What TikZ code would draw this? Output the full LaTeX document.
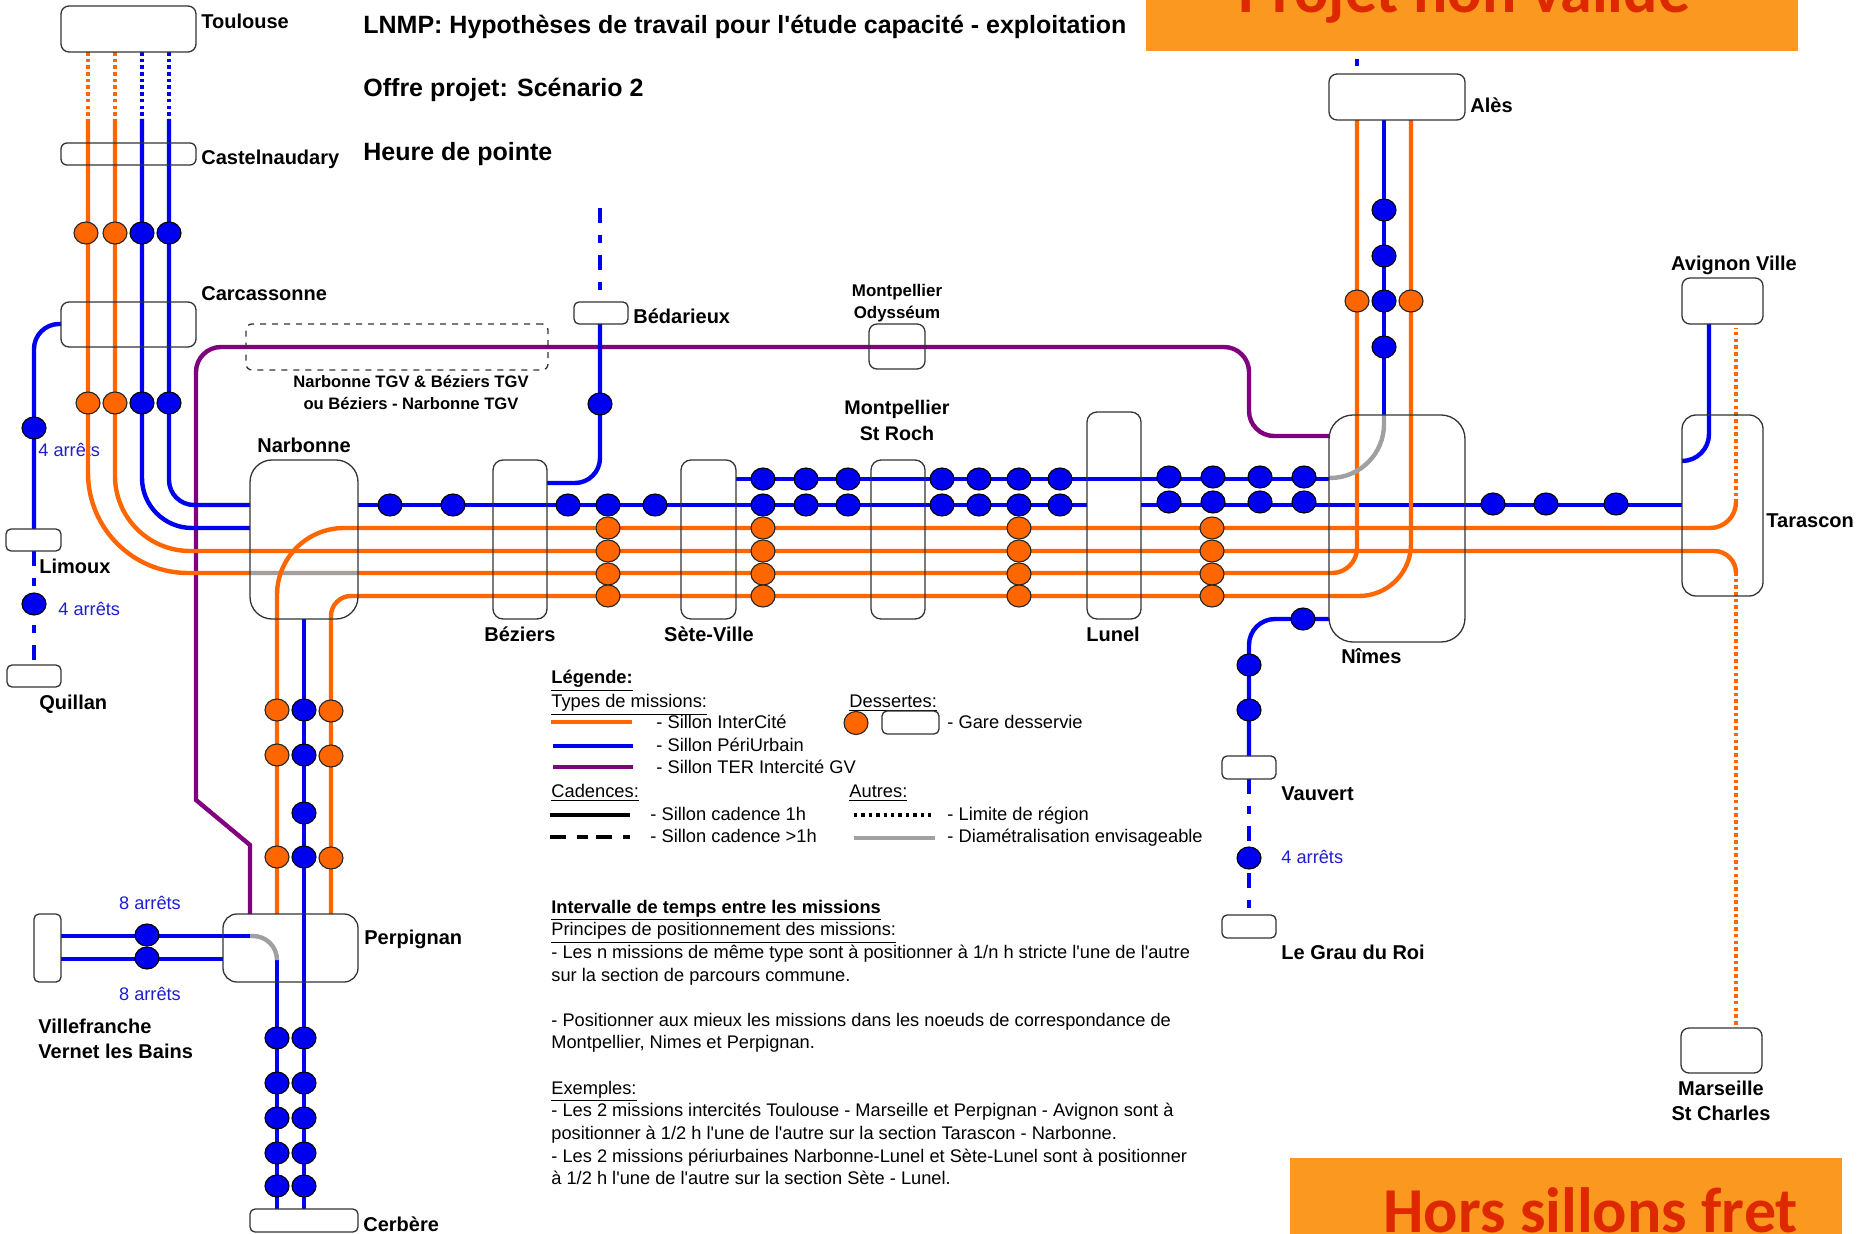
\documentclass[tikz,border=0pt]{standalone}
\usepackage{fontspec}
\newfontfamily\lib{Liberation Sans}
\newfontfamily\carl{Carlito}
\usetikzlibrary{shapes.geometric}
\definecolor{cor}{HTML}{FF6600}
\definecolor{cbl}{HTML}{0000F0}
\definecolor{cpu}{HTML}{800080}
\definecolor{cgr}{HTML}{A0A0A0}
\definecolor{ctx}{HTML}{1F1FD0}
\definecolor{cban}{HTML}{FB981F}
\definecolor{cred}{HTML}{DE2800}
\tikzset{
  gare/.style={draw=black!80,line width=.65pt,rectangle,inner sep=0pt,outer sep=0pt},
  stopb/.style={draw=black,fill=cbl,line width=.55pt,ellipse,inner sep=0pt,minimum width=12pt,minimum height=11pt},
  stopo/.style={draw=black!85,fill=cor,line width=.55pt,ellipse,inner sep=0pt,minimum width=12pt,minimum height=11pt},
  lor/.style={draw=cor,line width=2.2pt},
  lbl/.style={draw=cbl,line width=2.2pt},
  lpu/.style={draw=cpu,line width=2.2pt},
  lgr/.style={draw=cgr,line width=2.2pt},
  dotted line/.style={dash pattern=on 1.8pt off 1.55pt},
  mixed line/.style={dash pattern=on 7.5pt off 6pt on 4pt off 6pt},
  lab/.style={inner sep=0pt,anchor=west,text height=7.6pt,text depth=.4pt,font=\lib\bfseries\fontsize{10}{12}\selectfont},
  labc/.style={inner sep=0pt,align=center,font=\lib\bfseries\fontsize{10}{12.6}\selectfont},
  title/.style={inner sep=0pt,anchor=west,text height=9.9pt,text depth=.5pt,font=\lib\bfseries\fontsize{12.5}{15}\selectfont},
  stoptxt/.style={inner sep=0pt,text=ctx,text height=6.4pt,text depth=1pt,font=\lib\fontsize{9.1}{11}\selectfont},
  leg/.style={inner sep=0pt,anchor=west,text height=6.6pt,text depth=1pt,font=\lib\fontsize{9.15}{11}\selectfont},
  banner/.style={fill=cban,draw=none},
  bantxt/.style={inner sep=0pt,anchor=base west,text=cred,font=\carl\bfseries\fontsize{32}{36}\selectfont},
}
\newcommand{\gareN}[6]{\node[gare,rounded corners=#6,minimum width={(#4-#2)*.5pt},minimum height={(#5-#3)*.5pt}] (#1) at ({(#2+#4)/2},{(#3+#5)/2}) {};}
\begin{document}
\begin{tikzpicture}[x=.5pt,y=-.5pt]
\useasboundingbox (0,0) rectangle (1861,1234);
\fill[white] (0,0) rectangle (1861,1234);
% banners
\path[banner] (1146,0) rectangle (1798,51);
\path[banner] (1290,1158) rectangle (1842,1234);
\node[bantxt] (banA) at (1238,13) {Projet non valide};
\node[bantxt] (banB) at (1383,1232) {Hors sillons fret};
% labels lying under the lines
\node[stoptxt,anchor=west] (ar1) at (38,451) {4 arrêts};
% purple
\draw[lpu] (250,914)--(250,845)--(196,800)--(196,500);
\draw[lpu,rounded corners=12.5pt] (196,500)--(196,347)--(1249,347)--(1249,436)--(1329,436);
% blue
\draw[lbl,dotted line] (142,52)--(142,119);
\draw[lbl,dotted line] (169,52)--(169,119);
\draw[lbl,rounded corners=12.5pt] (169,119)--(169,505)--(250,505);
\draw[lbl,rounded corners=25pt] (142,119)--(142,528)--(250,528);
\draw[lbl] (358,505)--(1087,505);
\draw[lbl] (736,479)--(1329,479);
\draw[lbl] (1141,505)--(1682,505);
\draw[lbl,rounded corners=12.5pt] (61,324)--(34,324)--(34,529);
\draw[lbl,mixed line] (34,551)--(34,665);
\draw[lbl,mixed line] (600,208)--(600,291);
\draw[lbl,rounded corners=12.5pt] (600,324)--(600,483)--(547,483);
\draw[lbl] (304,619)--(304,1209);
\draw[lbl] (277,959)--(277,1209);
\draw[lbl] (61,936)--(250,936);
\draw[lbl] (61,959)--(223,959);
\draw[lbl] (1384,120)--(1384,415);
\draw[lbl] (1357,59)--(1357,66);
\draw[lbl,rounded corners=13pt] (1329,619)--(1249,619)--(1249,756);
\draw[lbl,mixed line] (1249,779)--(1249,915);
\draw[lbl,rounded corners=13.5pt] (1709,324)--(1709,461)--(1682,461);
% orange
\draw[lor,dotted line] (88,52)--(88,119);
\draw[lor,dotted line] (115,52)--(115,119);
\draw[lor,rounded corners=50pt] (88,119)--(88,573)--(600,573);
\draw[lgr] (250,573)--(358,573);
\draw[lor,rounded corners=12.5pt] (600,573)--(1357,573)--(1357,120);
\draw[lor,rounded corners=37.5pt] (115,119)--(115,551)--(900,551);
\draw[lor,rounded corners=11pt] (900,551)--(1736,551)--(1736,572);
\draw[lor,dotted line] (1736,572)--(1736,1027);
\draw[lor,rounded corners=33.5pt] (277,914)--(277,528)--(900,528);
\draw[lor,rounded corners=13pt] (900,528)--(1736,528)--(1736,503);
\draw[lor,dotted line] (1736,503)--(1736,328);
\draw[lor,rounded corners=10pt] (331,914)--(331,596)--(800,596);
\draw[lor,rounded corners=26pt] (800,596)--(1411,596)--(1411,120);
% grey
\draw[lgr,rounded corners=27pt] (1384,415)--(1384,478)--(1329,478);
\draw[lgr,rounded corners=12pt] (250,936)--(277,936)--(277,959);
% stations
\gareN{tou}{61}{6}{196}{52}{4pt}
\gareN{cas}{61}{143}{196}{165}{3pt}
\gareN{car}{61}{302}{196}{347}{4pt}
\gareN{lim}{6}{529}{61}{551}{2.5pt}
\gareN{qui}{7}{665}{61}{687}{2.5pt}
\gareN{nar}{250}{460}{358}{619}{11pt}
\gareN{bed}{574}{302}{628}{324}{2.5pt}
\gareN{bez}{493}{460}{547}{619}{5pt}
\gareN{set}{681}{460}{736}{619}{5pt}
\gareN{mon}{871}{460}{925}{619}{5pt}
\gareN{ody}{869}{324}{925}{369}{4pt}
\gareN{lun}{1087}{412}{1141}{619}{5pt}
\gareN{nim}{1329}{415}{1465}{642}{12pt}
\gareN{ale}{1329}{74}{1465}{120}{4pt}
\gareN{avi}{1682}{278}{1763}{324}{4pt}
\gareN{tar}{1682}{415}{1763}{596}{7pt}
\gareN{mar}{1681}{1028}{1762}{1073}{4pt}
\gareN{vau}{1222}{756}{1276}{779}{2.5pt}
\gareN{gra}{1222}{915}{1276}{938}{2.5pt}
\gareN{per}{223}{914}{358}{982}{7pt}
\gareN{vil}{34}{914}{61}{982}{2.5pt}
\gareN{cer}{250}{1209}{358}{1232}{2.5pt}
\node[gare,dashed,rounded corners=3pt,minimum width=151pt,minimum height=23pt] (tgv) at (397,347) {};
% stops
\foreach \x/\y [count=\i] in {142/233,169/233,142/403,169/403,34/428,34/604,600/404,390/505,453/505,568/505,608/505,655/505,
  763/479,806/479,848/479,942/479,979/479,1019/479,1060/479,
  763/505,806/505,848/505,942/505,979/505,1019/505,1060/505,
  1169/477,1213/477,1260/477,1304/477,1169/502,1213/502,1260/502,1304/502,
  1384/210,1384/256,1384/301,1384/347,1493/504,1546/504,1616/504,
  1303/619,1249/665,1249/710,1249/858,
  304/710,304/755,304/813,304/857,
  277/1038,277/1083,277/1118,277/1153,277/1186,
  304/1038,304/1083,304/1118,304/1153,304/1186,147/935,147/958}
  \node[stopb] (b\i) at (\x,\y) {};
\foreach \x/\y [count=\i] in {86/233,115/233,88/403,115/403,
  608/528,608/551,608/574,608/596,763/528,763/551,763/574,763/596,
  1019/528,1019/551,1019/574,1019/596,1212/528,1212/551,1212/574,1212/596,
  1357/301,1411/301,277/710,277/755,277/857,331/711,331/756,331/858}
  \node[stopo] (o\i) at (\x,\y) {};
% titles
\node[title] (t1) at (363,24) {LNMP: Hypothèses de travail pour l'étude capacité - exploitation};
\node[title] (t2) at (363,87) {Offre projet: Scénario 2};
\node[title] (t3) at (363,151) {Heure de pointe};
% station labels
\node[lab] (lTou) at (201,21) {Toulouse};
\node[lab] (lCas) at (201,157) {Castelnaudary};
\node[lab] (lCar) at (201,293) {Carcassonne};
\node[lab] (lLim) at (39,566) {Limoux};
\node[lab] (lQui) at (39,702) {Quillan};
\node[lab] (lBed) at (633,316) {Bédarieux};
\node[labc] (lNar) at (304,445) {Narbonne};
\node[labc,font=\lib\bfseries\fontsize{8.3}{11}\selectfont] (lTgv) at (411,392) {Narbonne TGV \& Béziers TGV\\ou Béziers - Narbonne TGV};
\node[labc,font=\lib\bfseries\fontsize{8.45}{11}\selectfont] (lOdy) at (897,303) {Montpellier\\Odysséum};
\node[labc,font=\lib\bfseries\fontsize{9.85}{13}\selectfont] (lMon) at (897,420) {Montpellier\\St Roch};
\node[labc] (lBez) at (520,634) {Béziers};
\node[labc] (lSet) at (709,634) {Sète-Ville};
\node[labc] (lLun) at (1113,634) {Lunel};
\node[lab] (lNim) at (1341,656) {Nîmes};
\node[lab] (lAle) at (1470,105) {Alès};
\node[labc] (lAvi) at (1734,265) {Avignon Ville};
\node[lab] (lTar) at (1766,520) {Tarascon};
\node[labc] (lMar) at (1721,1101) {Marseille\\St Charles};
\node[lab] (lVau) at (1281,793) {Vauvert};
\node[lab] (lGra) at (1281,952) {Le Grau du Roi};
\node[lab] (lPer) at (364,937) {Perpignan};
\node[lab] (lCer) at (363,1224) {Cerbère};
\node[labc,align=left,anchor=west] (lVil) at (38,1039) {Villefranche\\Vernet les Bains};
\node[stoptxt,anchor=west] (ar2) at (58,610) {4 arrêts};
\node[stoptxt] (ar3) at (150,904) {8 arrêts};
\node[stoptxt] (ar4) at (150,995) {8 arrêts};
\node[stoptxt,anchor=west] (ar5) at (1281,858) {4 arrêts};
% legend
\node[leg,font=\lib\bfseries\fontsize{9.15}{11}\selectfont] (g0) at (551,678) {\underline{Légende:}};
\node[leg] (g1) at (551,702) {\underline{Types de missions:}};
\node[leg] (g2) at (849,702) {\underline{Dessertes:}};
\coordinate (a1) at (551,722); \coordinate (a2) at (632,722);
\draw[lor] (a1)--(a2);
\coordinate (a3) at (553,746); \coordinate (a4) at (633,746);
\draw[lbl] (a3)--(a4);
\coordinate (a5) at (553,767); \coordinate (a6) at (633,767);
\draw[lpu] (a5)--(a6);
\node[leg] (g3) at (656,723) {- Sillon InterCité};
\node[leg] (g4) at (656,746) {- Sillon PériUrbain};
\node[leg] (g5) at (656,768) {- Sillon TER Intercité GV};
\node[stopo,minimum height=23pt*.5,minimum width=24pt*.5] (g6) at (856,723) {};
\gareN{g7}{882}{711}{939}{734}{2.5pt}
\node[leg] (g8) at (947,723) {- Gare desservie};
\node[leg] (g9) at (551,792) {\underline{Cadences:}};
\node[leg] (g10) at (849,792) {\underline{Autres:}};
\coordinate (a7) at (550,815); \coordinate (a8) at (630,815);
\draw[line width=2.2pt,black] (a7)--(a8);
\coordinate (a9) at (550,837); \coordinate (a10) at (630,837);
\draw[line width=2.2pt,black,dash pattern=on 8pt off 5.5pt on 5.5pt off 4pt] (a9)--(a10);
\coordinate (a11) at (854,815); \coordinate (a12) at (935,815);
\draw[line width=1.8pt,black,dash pattern=on 1.7pt off 2pt] (a11)--(a12);
\coordinate (a13) at (854,838); \coordinate (a14) at (935,838);
\draw[lgr] (a13)--(a14);
\node[leg] (g11) at (650,815) {- Sillon cadence 1h};
\node[leg] (g12) at (650,837) {- Sillon cadence >1h};
\node[leg] (g13) at (947,815) {- Limite de région};
\node[leg] (g14) at (947,837) {- Diamétralisation envisageable};
% notes
\node[inner sep=0pt,anchor=north west,align=left,font=\lib\fontsize{9.12}{11.32}\selectfont] (notes) at (551,899.5) {%
{\bfseries\underline{Intervalle de temps entre les missions}}\\
\underline{Principes de positionnement des missions:}\\
- Les n missions de même type sont à positionner à 1/n h stricte l'une de l'autre\\
sur la section de parcours commune.\\
\\
- Positionner aux mieux les missions dans les noeuds de correspondance de\\
Montpellier, Nimes et Perpignan.\\
\\
\underline{Exemples:}\\
- Les 2 missions intercités Toulouse - Marseille et Perpignan - Avignon sont à\\
positionner à 1/2 h l'une de l'autre sur la section Tarascon - Narbonne.\\
- Les 2 missions périurbaines Narbonne-Lunel et Sète-Lunel sont à positionner\\
à 1/2 h l'une de l'autre sur la section Sète - Lunel.};
\end{tikzpicture}
\end{document}
